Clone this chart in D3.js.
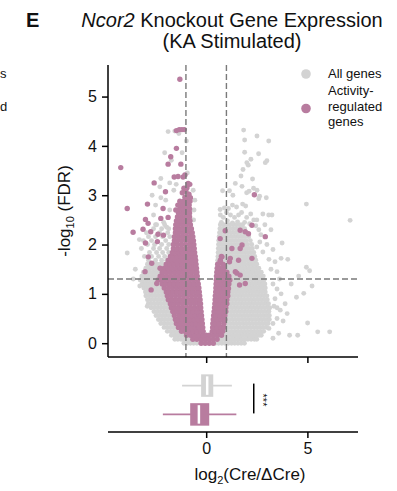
<!DOCTYPE html>
<html>
<head>
<meta charset="utf-8">
<script src="https://cdn.jsdelivr.net/npm/d3@7"></script>
<style>
body { margin: 0; background: #fff; }
text { font-family: "Liberation Sans", Arial, sans-serif; fill: #111; }
</style>
</head>
<body>
<div id="chart"></div>
<script>
// ---- data (log2 fold change, -log10 FDR) ----
let yTicks = [0, 1, 2, 3, 4, 5]
let xTicks = [0, 5]
let fcCuts = [-1, 1]
let fdrCut = 1.301

// dense core of all genes, one row per -log10(FDR) level: "y|x x x"
let allGenesRows = [
  "0.00|-1.10 -0.94 -0.78 -0.62 -0.46 0.45 0.61 0.77 0.93 1.09 1.25 1.41 1.57 1.73 1.89",
  "0.08|-1.55 -1.40 -1.24 -1.08 -0.92 -0.76 -0.64 0.62 0.78 0.94 1.10 1.26 1.42 1.58 1.74 1.90 2.06 2.22 2.38 2.50",
  "0.16|-1.72 -1.56 -1.40 -1.24 -1.08 -0.92 0.70 0.86 1.02 1.18 1.34 1.50 1.66 1.82 1.98 2.14 2.30 2.46 2.62 2.72",
  "0.24|-1.92 -1.76 -1.60 -1.44 -1.28 0.78 0.94 1.10 1.26 1.42 1.58 1.74 1.90 2.06 2.22 2.38 2.54 2.70 2.84",
  "0.32|-2.08 -1.92 -1.76 -1.60 -1.44 -1.36 0.82 0.90 1.06 1.22 1.38 1.54 1.70 1.86 2.02 2.18 2.34 2.50 2.66 2.82 2.98",
  "0.40|-2.24 -2.08 -1.92 -1.76 -1.60 -1.46 0.86 1.02 1.18 1.34 1.50 1.66 1.82 1.98 2.14 2.30 2.46 2.62 2.78 2.94 3.06",
  "0.48|-2.36 -2.20 -2.04 -1.88 -1.72 -1.56 0.90 0.98 1.14 1.30 1.46 1.62 1.78 1.94 2.10 2.26 2.42 2.58 2.74 2.90 3.06 3.12",
  "0.56|-2.48 -2.32 -2.16 -2.00 -1.84 -1.66 0.92 1.08 1.24 1.40 1.56 1.72 1.88 2.04 2.20 2.36 2.52 2.68 2.84 3.00 3.12",
  "0.64|-2.58 -2.42 -2.26 -2.10 -1.94 -1.76 0.94 1.02 1.18 1.34 1.50 1.66 1.82 1.98 2.14 2.30 2.46 2.62 2.78 2.94 3.10",
  "0.72|-2.72 -2.56 -2.40 -2.24 -2.08 -1.92 -1.80 0.96 1.12 1.28 1.44 1.60 1.76 1.92 2.08 2.24 2.40 2.56 2.72 2.88 3.04 3.14",
  "0.80|-2.86 -2.70 -2.54 -2.38 -2.22 -2.06 -1.90 0.98 1.06 1.22 1.38 1.54 1.70 1.86 2.02 2.18 2.34 2.50 2.66 2.82 2.98 3.08",
  "0.88|-2.90 -2.74 -2.58 -2.42 -2.26 -2.10 -1.96 0.98 1.14 1.30 1.46 1.62 1.78 1.94 2.10 2.26 2.42 2.58 2.74 2.90 3.02",
  "0.96|-2.98 -2.82 -2.66 -2.50 -2.34 -2.18 -2.02 1.00 1.08 1.24 1.40 1.56 1.72 1.88 2.04 2.20 2.36 2.52 2.68 2.84 3.00",
  "1.04|-3.00 -2.84 -2.68 -2.52 -2.36 -2.20 -2.06 1.00 1.16 1.32 1.48 1.64 1.80 1.96 2.12 2.28 2.44 2.60 2.76 2.92",
  "1.12|-3.08 -2.92 -2.76 -2.60 -2.44 -2.28 -2.14 1.00 1.08 1.24 1.40 1.56 1.72 1.88 2.04 2.20 2.36 2.52 2.68 2.84 2.92",
  "1.20|-3.16 -3.00 -2.84 -2.68 -2.52 -2.36 -2.22 1.02 1.18 1.34 1.50 1.66 1.82 1.98 2.14 2.30 2.46 2.62 2.78 2.90",
  "1.28|-3.26 -3.10 -2.94 -2.78 -2.62 -2.46 1.06 1.14 1.30 1.46 1.62 1.78 1.94 2.10 2.26 2.42 2.58 2.74 2.86",
  "1.36|-3.18 -3.02 -2.86 -2.70 -2.54 -2.38 0.49 0.65 0.81 0.97 1.13 1.29 1.45 1.61 1.77 1.93 2.09 2.25 2.41 2.57 2.73 2.82",
  "1.44|-3.10 -2.94 -2.78 -2.62 -2.46 -2.28 0.51 0.59 0.75 0.91 1.07 1.23 1.39 1.55 1.71 1.87 2.03 2.19 2.35 2.51 2.67 2.72",
  "1.52|-2.98 -2.82 -2.66 -2.50 -2.34 -2.18 0.53 0.69 0.85 1.01 1.17 1.33 1.49 1.65 1.81 1.97 2.13 2.29 2.45 2.60",
  "1.60|-2.90 -2.74 -2.58 -2.42 -2.26 -2.10 0.55 0.63 0.79 0.95 1.11 1.27 1.43 1.59 1.75 1.91 2.07 2.23 2.39 2.50",
  "1.68|-2.85 -2.50 -2.20 -1.95 0.57 0.73 0.89 1.05 1.21 1.37 1.53 1.69 1.85 2.01 2.17 2.33 2.45",
  "1.76|-3.05 -2.70 -2.35 -2.05 0.58 0.66 0.82 0.98 1.14 1.30 1.46 1.62 1.78 1.94 2.10 2.26 2.40",
  "1.84|-2.80 -2.45 -2.15 -1.85 0.59 0.75 0.91 1.07 1.23 1.39 1.55 1.71 1.87 2.03 2.19 2.35",
  "1.92|-3.20 -2.60 -2.30 -1.95 0.60 0.68 0.84 1.00 1.16 1.32 1.48 1.64 1.80 1.96 2.12 2.28",
  "2.00|-2.90 -2.55 -2.20 -1.85 0.61 0.77 0.93 1.09 1.25 1.41 1.57 1.73 1.89 2.05 2.25",
  "2.08|-3.10 -2.70 -2.00 0.62 0.70 0.86 1.02 1.18 1.34 1.50 1.66 1.82 1.98 2.18",
  "2.16|-2.85 -2.50 -2.15 -1.80 0.64 0.80 0.96 1.12 1.28 1.44 1.60 1.76 1.92 2.10",
  "2.24|-2.95 -2.30 -1.90 0.66 0.74 0.90 1.06 1.22 1.38 1.54 1.70 1.86 2.00",
  "2.32|-2.60 -2.20 -1.85 0.68 0.84 1.00 1.16 1.32 1.48 1.64 1.80 1.90",
  "2.40|-2.45 -2.05 0.70 0.86 1.02 1.18 1.34 1.50 1.66 1.80"
]

// scattered all genes, [log2FC, -log10 FDR]
let allGenesSparse = [
  [1.85, 4.32], [1.90, 4.12], [2.51, 4.20], [3.09, 4.10], [1.90, 3.87], [2.59, 3.84], [2.21, 3.73],
  [2.01, 3.66], [2.08, 3.61], [3.00, 3.70], [2.92, 3.66], [1.82, 3.52], [1.72, 3.39], [2.29, 3.33],
  [1.44, 3.24], [1.77, 3.18], [0.81, 3.09], [1.15, 3.09], [1.32, 3.00], [2.34, 3.14], [2.51, 3.10],
  [2.00, 3.05], [2.12, 3.08], [2.64, 2.98], [2.60, 2.93], [2.97, 2.95], [4.95, 2.82], [1.80, 2.82],
  [1.95, 2.78], [1.50, 2.76], [1.30, 2.80], [1.10, 2.73], [0.90, 2.74], [0.69, 2.71], [7.11, 2.49],
  [3.75, 2.03], [4.03, 1.70], [4.95, 1.54], [5.11, 1.47], [4.57, 1.36], [5.23, 1.16], [4.82, 1.01],
  [4.46, 0.93], [3.50, 0.72], [3.66, 0.67], [5.01, 0.41], [5.51, 0.23], [6.10, 0.23], [4.12, 0.16],
  [4.52, 0.16], [3.58, 0.20], [3.30, 1.20], [3.50, 1.10], [3.62, 1.30], [3.20, 1.50], [3.50, 1.45],
  [3.40, 1.65], [3.70, 1.72], [3.10, 1.70], [3.09, 2.60], [3.25, 2.60], [2.80, 2.62], [2.50, 2.50],
  [2.90, 2.40], [3.20, 2.30], [2.70, 2.20], [3.30, 1.90], [3.00, 2.00], [2.80, 1.85], [3.40, 0.90],
  [3.50, 0.50], [3.30, 0.40], [3.80, 0.45], [3.90, 0.80], [3.70, 1.00], [4.20, 1.20], [4.00, 0.60],
  [0.70, 2.60], [0.85, 2.55], [1.00, 2.65], [1.20, 2.60], [1.40, 2.55], [1.60, 2.60], [1.75, 2.65],
  [2.00, 2.55], [2.20, 2.62], [2.35, 2.50], [0.75, 2.45], [1.05, 2.48], [1.30, 2.44], [1.55, 2.46],
  [1.90, 2.45], [2.15, 2.42], [2.45, 2.38], [3.30, 0.10], [3.10, 0.30], [3.35, 0.75], [2.60, 2.30],
  [2.65, 2.05], [2.50, 1.95],
  [-1.88, 4.29], [-0.98, 4.10], [-2.05, 3.86], [-1.19, 3.86], [-1.72, 3.71], [-0.93, 3.45],
  [-2.24, 3.34], [-2.29, 3.17], [-1.80, 3.25], [-1.48, 3.22], [-2.67, 3.00], [-2.24, 2.95],
  [-1.60, 3.10], [-0.64, 3.10], [-0.56, 2.90], [-0.60, 2.70], [-0.62, 2.50], [-3.90, 1.83],
  [-2.91, 0.75], [-3.28, 1.16], [-2.60, 2.60], [-2.50, 2.40], [-2.10, 2.45], [-1.95, 2.35],
  [-3.30, 2.10], [-3.50, 1.50], [-3.60, 1.30], [-1.80, 2.70], [-2.50, 2.80], [-2.00, 2.90],
  [-1.55, 4.30], [-1.35, 4.25]
]

// dense core of activity-regulated genes
let activityRows = [
  "0.00|-0.25 -0.05 0.15 0.35",
  "0.08|-0.66 -0.46 -0.26 -0.06 0.14 0.34 0.54",
  "0.16|-0.97 -0.77 -0.57 -0.37 -0.17 0.00 0.16 0.36 0.56 0.76",
  "0.24|-1.22 -1.05 -0.85 -0.65 -0.45 -0.25 -0.15 0.30 0.45 0.65 0.82",
  "0.32|-1.37 -1.17 -0.97 -0.77 -0.57 -0.37 -0.17 0.32 0.52 0.72 0.87",
  "0.40|-1.47 -1.29 -1.09 -0.89 -0.69 -0.49 -0.29 -0.19 0.33 0.43 0.63 0.87",
  "0.48|-1.52 -1.41 -1.21 -1.01 -0.81 -0.61 -0.41 -0.21 0.35 0.55 0.75 0.92",
  "0.56|-1.57 -1.33 -1.13 -0.93 -0.73 -0.53 -0.33 -0.23 0.37 0.47 0.67 0.87 0.92",
  "0.64|-1.65 -1.45 -1.25 -1.05 -0.85 -0.65 -0.45 -0.25 0.39 0.59 0.79 0.97",
  "0.72|-1.72 -1.57 -1.37 -1.17 -0.97 -0.77 -0.57 -0.37 -0.27 0.41 0.51 0.71 0.91 0.97",
  "0.80|-1.77 -1.58 -1.38 -1.18 -0.98 -0.78 -0.58 -0.38 -0.28 0.43 0.63 0.83 1.02",
  "0.88|-1.87 -1.70 -1.50 -1.30 -1.10 -0.90 -0.70 -0.50 -0.30 0.44 0.54 0.74 0.94 1.02",
  "0.96|-1.92 -1.72 -1.52 -1.32 -1.12 -0.92 -0.72 -0.52 -0.32 0.45 0.65 0.85 1.07",
  "1.04|-1.97 -1.84 -1.64 -1.44 -1.24 -1.04 -0.84 -0.64 -0.44 -0.34 0.47 0.57 0.77 0.97 1.07",
  "1.12|-2.07 -1.86 -1.66 -1.46 -1.26 -1.06 -0.86 -0.66 -0.46 -0.36 0.48 0.68 0.88 1.07",
  "1.20|-2.17 -1.99 -1.79 -1.59 -1.39 -1.19 -0.99 -0.79 -0.59 -0.39 0.49 0.59 0.79 0.99 1.12",
  "1.28|-2.37 -2.22 -2.02 -1.82 -1.62 -1.42 -1.22 -1.02 -0.82 -0.62 -0.42 0.50 0.70 0.90 1.10 1.17",
  "1.36|-2.27 -2.14 -1.94 -1.74 -1.54 -1.34 -1.14 -0.94 -0.74 -0.54 -0.44 0.51 0.61 0.81 1.01 1.12",
  "1.44|-2.17 -1.96 -1.76 -1.56 -1.36 -1.16 -0.96 -0.76 -0.56 -0.46 0.53 0.73 0.93 1.02",
  "1.52|-2.07 -1.88 -1.68 -1.48 -1.28 -1.08 -0.88 -0.68 -0.48 0.55 0.65 0.87",
  "1.60|-1.97 -1.80 -1.60 -1.40 -1.20 -1.00 -0.80 -0.60 -0.50 0.57 0.82",
  "1.68|-1.87 -1.72 -1.52 -1.32 -1.12 -0.92 -0.72 -0.52 0.70",
  "1.76|-1.77 -1.64 -1.44 -1.24 -1.04 -0.84 -0.64 -0.54 0.75",
  "1.84|-1.67 -1.57 -1.37 -1.17 -0.97 -0.77 -0.57",
  "1.92|-1.62 -1.43 -1.23 -1.03 -0.83 -0.69 -0.59",
  "2.00|-1.62 -1.41 -1.21 -1.01 -0.81 -0.61",
  "2.08|-1.57 -1.43 -1.23 -1.03 -0.83 -0.73 -0.63",
  "2.16|-1.57 -1.36 -1.16 -0.96 -0.76 -0.66",
  "2.24|-1.52 -1.39 -1.19 -0.99 -0.79 -0.69",
  "2.32|-1.52 -1.33 -1.13 -0.93 -0.73",
  "2.40|-1.50 -1.38 -1.18 -0.98 -0.78",
  "2.48|-1.47 -1.28 -1.08 -0.88 -0.80",
  "2.56|-1.42 -1.22 -1.02 -0.82",
  "2.64|-1.37 -1.17 -0.97 -0.82",
  "2.72|-1.30 -1.12 -0.92 -0.82",
  "2.80|-1.20 -1.02 -0.84",
  "2.88|-1.10 -0.92 -0.80",
  "2.96|-1.05 -0.85"
]

let activitySparse = [
  [-1.30, 5.35], [-1.47, 4.31], [-1.33, 4.33], [-1.20, 4.33], [-1.08, 4.33], [-1.47, 3.95],
  [-1.75, 3.78], [-1.88, 3.63], [-1.25, 3.63], [-4.22, 3.56], [-1.58, 3.37], [-1.39, 3.38],
  [-1.14, 3.37], [-1.05, 3.41], [-0.89, 3.24], [-0.81, 3.22], [-2.57, 3.25], [-2.01, 3.07],
  [-1.18, 3.05], [-1.00, 3.08], [-0.85, 3.02], [-0.78, 2.95], [-1.10, 3.14], [-0.95, 3.15],
  [-3.90, 2.73], [-2.90, 2.82], [-2.13, 2.73], [-1.40, 2.80], [-1.30, 2.88], [-1.50, 2.70],
  [-3.00, 2.51], [-2.87, 2.43], [-2.24, 2.53], [-1.88, 2.55], [-3.61, 2.25], [-3.12, 2.31],
  [-2.74, 2.26], [-2.38, 2.21], [-3.00, 2.03], [-2.41, 2.06], [-2.11, 2.19], [-2.86, 1.75],
  [-2.69, 1.62], [-3.02, 1.45], [-2.28, 1.52], [-2.11, 1.45], [-2.72, 1.08], [-2.44, 1.21],
  [2.38, 3.01], [2.26, 2.39], [1.68, 2.29], [1.93, 2.26], [2.09, 2.22], [2.92, 2.16], [0.94, 2.28],
  [0.69, 2.12], [1.77, 1.99], [1.27, 1.92], [1.68, 1.92], [1.60, 1.68], [1.19, 1.72], [2.26, 1.72],
  [1.15, 1.65], [0.78, 1.75], [0.69, 1.65], [0.86, 1.58], [0.78, 1.48], [1.52, 1.42], [1.68, 1.38],
  [1.44, 1.45], [1.65, 1.18], [1.93, 1.21], [0.94, 1.21], [1.10, 1.11]
]

// box summaries of log2FC
let boxGroups = ['All genes', 'Activity-regulated genes']
let boxLo = [-1.19, -2.14]
let boxQ1 = [-0.25, -0.79]
let boxMed = [0.05, -0.36]
let boxQ3 = [0.35, 0.15]
let boxHi = [1.27, 1.49]

let gray = '#d3d3d3', pink = '#b87c9f'

function parseRows(rows) {
  return rows.flatMap(r => {
    let [y, xs] = r.split('|')
    return xs.trim().split(/\s+/).map(v => ({ x: +v, y: +y }))
  })
}

let grayPts = parseRows(allGenesRows).concat(allGenesSparse.map(d => ({ x: d[0], y: d[1] })))
let pinkPts = parseRows(activityRows).concat(activitySparse.map(d => ({ x: d[0], y: d[1] })))

let width = 397, height = 491

let svg = d3.select('#chart')
  .append('svg')
  .attr('width', width)
  .attr('height', height)

let x = d3.scaleLinear().domain([-4.85, 7.5]).range([108, 358])
let y = d3.scaleLinear().domain([-0.28, 5.64]).range([357, 65])

// panel letter + title
svg.append('text').attr('x', 26).attr('y', 27)
  .style('font-size', '20px').style('font-weight', 'bold').text('E')

let title = svg.append('text').attr('x', 232).attr('y', 27)
  .style('font-size', '20px').attr('text-anchor', 'middle')
title.append('tspan').style('font-style', 'italic').text('Ncor2')
title.append('tspan').text(' Knockout Gene Expression')
svg.append('text').attr('x', 232).attr('y', 48)
  .style('font-size', '20px').attr('text-anchor', 'middle').text('(KA Stimulated)')

// visible edges of the neighbouring panel's legend
svg.append('text').attr('x', 0).attr('y', 78)
  .style('font-size', '13px').text('s')
svg.append('text').attr('x', 0).attr('y', 111)
  .style('font-size', '13px').text('d')

// points
svg.append('g').selectAll('circle')
  .data(grayPts)
  .join('circle')
  .attr('cx', d => x(d.x))
  .attr('cy', d => y(d.y))
  .attr('r', 2.45)
  .attr('fill', gray)

svg.append('g').selectAll('circle')
  .data(pinkPts)
  .join('circle')
  .attr('cx', d => x(d.x))
  .attr('cy', d => y(d.y))
  .attr('r', 2.7)
  .attr('fill', pink)

// threshold lines
let dash = svg.append('g')
  .style('stroke', '#7a7a7a')
  .style('stroke-width', 1.4)
  .style('stroke-dasharray', '6,3')
dash.selectAll('.vcut')
  .data(fcCuts)
  .join('line')
  .attr('class', 'vcut')
  .attr('x1', d => x(d)).attr('x2', d => x(d))
  .attr('y1', y.range()[1]).attr('y2', y.range()[0])
dash.append('line')
  .attr('x1', x.range()[0]).attr('x2', x.range()[1])
  .attr('y1', y(fdrCut)).attr('y2', y(fdrCut))

// axes
let yAxis = svg.append('g')
  .attr('transform', `translate(${x.range()[0]},0)`)
  .call(d3.axisLeft(y).tickValues(yTicks).tickSize(6).tickPadding(5).tickFormat(d3.format('d')))
yAxis.selectAll('text').style('font-size', '16px')

let xAxisTop = svg.append('g')
  .attr('transform', `translate(0,${y.range()[0]})`)
  .call(d3.axisBottom(x).tickValues(xTicks).tickSize(6).tickFormat(''))

// box plot panel
let band = d3.scaleBand().domain(boxGroups).range([368, 432]).padding(0.22)

let boxes = svg.append('g')
  .selectAll('g')
  .data(boxGroups)
  .join('g')

boxes.append('line')
  .attr('x1', (d, i) => x(boxLo[i]))
  .attr('x2', (d, i) => x(boxHi[i]))
  .attr('y1', d => band(d) + band.bandwidth() / 2)
  .attr('y2', d => band(d) + band.bandwidth() / 2)
  .style('stroke', (d, i) => i == 0 ? gray : pink)
  .style('stroke-width', 1.6)

boxes.append('rect')
  .attr('x', (d, i) => x(boxQ1[i]))
  .attr('width', (d, i) => x(boxQ3[i]) - x(boxQ1[i]))
  .attr('y', d => band(d))
  .attr('height', band.bandwidth())
  .attr('fill', (d, i) => i == 0 ? gray : pink)

boxes.append('line')
  .attr('x1', (d, i) => x(boxMed[i]))
  .attr('x2', (d, i) => x(boxMed[i]))
  .attr('y1', d => band(d) + 2)
  .attr('y2', d => band(d) + band.bandwidth() - 2)
  .style('stroke', '#fff')
  .style('stroke-width', 2.5)

// significance bar
let sigX = x(2.35)
svg.append('line')
  .attr('x1', sigX).attr('x2', sigX)
  .attr('y1', band(boxGroups[0]) + band.bandwidth() / 2 - 2)
  .attr('y2', band(boxGroups[1]) + band.bandwidth() / 2 - 1)
  .style('stroke', '#000').style('stroke-width', 1.5)
svg.append('text')
  .attr('transform', `translate(${sigX + 5},${(band(boxGroups[0]) + band(boxGroups[1])) / 2 + band.bandwidth() / 2}) rotate(90)`)
  .attr('text-anchor', 'middle')
  .style('font-size', '11px')
  .text('***')

let xAxis = svg.append('g')
  .attr('transform', `translate(0,${band.range()[1]})`)
  .call(d3.axisBottom(x).tickValues(xTicks).tickSize(6).tickPadding(5))
xAxis.selectAll('text').style('font-size', '16px')

for (let ax of [yAxis, xAxisTop, xAxis]) {
  ax.select('.domain').style('stroke', '#000').style('stroke-width', 1.5)
  ax.selectAll('.tick line').style('stroke', '#000').style('stroke-width', 1.5)
  ax.selectAll('text').style('fill', '#111').attr('font-family', null)
}
// no end caps on the domains
yAxis.select('.domain').attr('d', `M0,${y.range()[0]}V${y.range()[1]}`)
xAxisTop.select('.domain').attr('d', `M${x.range()[0]},0H${x.range()[1]}`)
xAxis.select('.domain').attr('d', `M${x.range()[0]},0H${x.range()[1]}`)

// axis titles
let xl = svg.append('text').attr('x', 250).attr('y', 480)
  .attr('text-anchor', 'middle').style('font-size', '17px')
xl.append('tspan').text('log')
xl.append('tspan').attr('dy', 4).style('font-size', '11px').text('2')
xl.append('tspan').attr('dy', -4).text('(Cre/\u0394Cre)')

let yl = svg.append('text')
  .attr('transform', `translate(70,${(y.range()[0] + y.range()[1]) / 2}) rotate(-90)`)
  .attr('text-anchor', 'middle').style('font-size', '17px')
yl.append('tspan').text('-log')
yl.append('tspan').attr('dy', 4).style('font-size', '11px').text('10')
yl.append('tspan').attr('dy', -4).text(' (FDR)')

// legend
let legend = svg.append('g')
legend.append('circle').attr('cx', 306).attr('cy', 74).attr('r', 4.8).attr('fill', gray)
legend.append('circle').attr('cx', 306).attr('cy', 108.5).attr('r', 4.8).attr('fill', pink)
legend.append('text').attr('x', 328).attr('y', 78).style('font-size', '13px').text('All genes')
legend.selectAll('.lab2')
  .data(['Activity-', 'regulated', 'genes'])
  .join('text')
  .attr('x', 328)
  .attr('y', (d, i) => 95 + i * 15.5)
  .style('font-size', '13px')
  .text(d => d)
</script>
</body>
</html>
